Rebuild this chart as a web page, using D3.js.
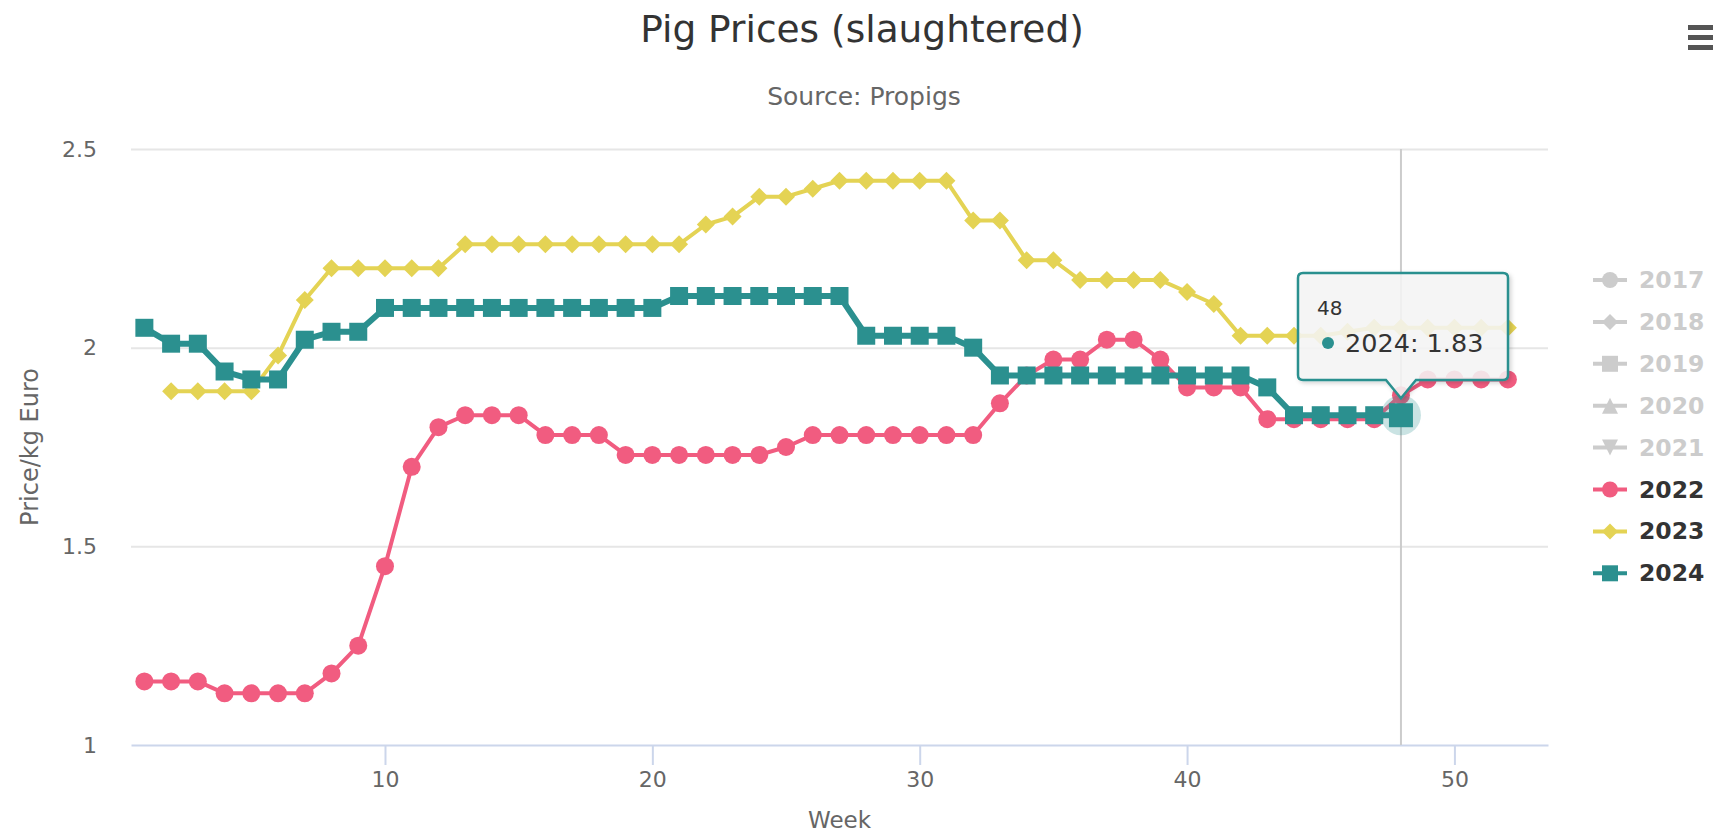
<!DOCTYPE html>
<html>
<head>
<meta charset="utf-8">
<script src="https://cdn.jsdelivr.net/npm/d3@7"></script>
<style>
  html, body { margin: 0; padding: 0; background: #fff; overflow: hidden; }
  svg text { font-family: "DejaVu Sans", "Lucida Grande", Arial, sans-serif; }
</style>
</head>
<body>
<div id="chart"></div>
<script>
// Pig prices per week, euro per kg
const years = ['2017', '2018', '2019', '2020', '2021', '2022', '2023', '2024'];
const visibleYears = ['2022', '2023', '2024'];
const xTicks = [10, 20, 30, 40, 50];
const yTicks = [1, 1.5, 2, 2.5];

const prices2022 = [1.16, 1.16, 1.16, 1.13, 1.13, 1.13, 1.13, 1.18, 1.25, 1.45,
  1.70, 1.80, 1.83, 1.83, 1.83, 1.78, 1.78, 1.78, 1.73, 1.73,
  1.73, 1.73, 1.73, 1.73, 1.75, 1.78, 1.78, 1.78, 1.78, 1.78,
  1.78, 1.78, 1.86, 1.93, 1.97, 1.97, 2.02, 2.02, 1.97, 1.90,
  1.90, 1.90, 1.82, 1.82, 1.82, 1.82, 1.82, 1.88, 1.92, 1.92,
  1.92, 1.92];
const prices2023 = [null, 1.89, 1.89, 1.89, 1.89, 1.98, 2.12, 2.20, 2.20, 2.20,
  2.20, 2.20, 2.26, 2.26, 2.26, 2.26, 2.26, 2.26, 2.26, 2.26,
  2.26, 2.31, 2.33, 2.38, 2.38, 2.40, 2.42, 2.42, 2.42, 2.42,
  2.42, 2.32, 2.32, 2.22, 2.22, 2.17, 2.17, 2.17, 2.17, 2.14,
  2.11, 2.03, 2.03, 2.03, 2.03, 2.04, 2.05, 2.05, 2.05, 2.05,
  2.05, 2.05];
const prices2024 = [2.05, 2.01, 2.01, 1.94, 1.92, 1.92, 2.02, 2.04, 2.04, 2.10,
  2.10, 2.10, 2.10, 2.10, 2.10, 2.10, 2.10, 2.10, 2.10, 2.10,
  2.13, 2.13, 2.13, 2.13, 2.13, 2.13, 2.13, 2.03, 2.03, 2.03,
  2.03, 2.00, 1.93, 1.93, 1.93, 1.93, 1.93, 1.93, 1.93, 1.93,
  1.93, 1.93, 1.90, 1.83, 1.83, 1.83, 1.83, 1.83];

const hoverWeek = 48;

// highcharts default colours / symbols
const palette = ['#7cb5ec', '#434348', '#90ed7d', '#f7a35c', '#8085e9', '#f15c80', '#e4d354', '#2b908f'];
const symbols = ['circle', 'diamond', 'square', 'triangle', 'triangle-down'];

const series = [
  { name: '2022', values: prices2022, color: palette[5], symbol: 'circle', lineWidth: 4 },
  { name: '2023', values: prices2023, color: palette[6], symbol: 'diamond', lineWidth: 4 },
  { name: '2024', values: prices2024, color: palette[7], symbol: 'square', lineWidth: 6 },
];

const width = 1713;
const height = 833;
const plot = { left: 131, right: 1548, top: 149, bottom: 745 };

const svg = d3.select('#chart')
  .append('svg')
  .attr('width', width)
  .attr('height', height);

const defs = svg.append('defs');
const shadow = defs.append('filter').attr('id', 'tipShadow')
  .attr('x', '-10%').attr('y', '-10%').attr('width', '130%').attr('height', '140%');
shadow.append('feDropShadow')
  .attr('dx', 2).attr('dy', 2).attr('stdDeviation', 2)
  .attr('flood-color', '#000').attr('flood-opacity', 0.18);

const x = d3.scaleLinear().domain([0.5, 53.5]).range([plot.left, plot.right]);
const y = d3.scaleLinear().domain([1, 2.5]).range([plot.bottom, plot.top]);

// symbol path, centred at 0,0 with radius r
const symbolPath = (type, r) => {
  if (type === 'circle') return d3.symbol(d3.symbolCircle, Math.PI * r * r)();
  if (type === 'square') return `M${-r},${-r}H${r}V${r}H${-r}Z`;
  if (type === 'diamond') return `M0,${-r}L${r},0L0,${r}L${-r},0Z`;
  if (type === 'triangle') return `M0,${-r}L${r},${r}H${-r}Z`;
  return `M${-r},${-r}H${r}L0,${r}Z`;
};

// Title + subtitle
svg.append('text')
  .attr('x', 862).attr('y', 42)
  .attr('text-anchor', 'middle')
  .attr('font-size', '37.5px')
  .attr('fill', '#333')
  .text('Pig Prices (slaughtered)');

svg.append('text')
  .attr('x', 864).attr('y', 105)
  .attr('text-anchor', 'middle')
  .attr('font-size', '25px')
  .attr('fill', '#666')
  .text('Source: Propigs');

// export menu (hamburger)
const menu = svg.append('g').attr('transform', 'translate(1688,25)');
menu.selectAll('rect')
  .data([0, 10, 20])
  .join('rect')
  .attr('x', 0).attr('y', (d) => d)
  .attr('width', 30).attr('height', 5)
  .attr('fill', '#555');

// Grid lines
svg.append('g')
  .attr('transform', `translate(${plot.left},0)`)
  .call(d3.axisLeft(y).tickValues(yTicks.filter((d) => d > 1)).tickSize(-(plot.right - plot.left)).tickFormat(''))
  .call((g) => g.select('.domain').remove())
  .call((g) => g.selectAll('line').attr('stroke', '#e6e6e6').attr('stroke-width', 2));

// Y axis labels
svg.append('g')
  .attr('transform', `translate(${plot.left},0)`)
  .call(d3.axisLeft(y).tickValues(yTicks).tickSize(0).tickPadding(34).tickFormat((d) => String(d)))
  .call((g) => g.select('.domain').remove())
  .call((g) => g.selectAll('text')
    .attr('font-size', '22px')
    .attr('fill', '#666')
    .attr('font-family', '"DejaVu Sans", sans-serif'));

// X axis
svg.append('g')
  .attr('transform', `translate(0,${plot.bottom})`)
  .call(d3.axisBottom(x).tickValues(xTicks).tickSize(20).tickPadding(6).tickSizeOuter(0))
  .call((g) => g.select('.domain').attr('stroke', '#ccd6eb').attr('stroke-width', 2))
  .call((g) => g.selectAll('line').attr('stroke', '#ccd6eb').attr('stroke-width', 2))
  .call((g) => g.selectAll('text')
    .attr('font-size', '22px')
    .attr('fill', '#666')
    .attr('font-family', '"DejaVu Sans", sans-serif'));

// Axis titles
svg.append('text')
  .attr('x', (plot.left + plot.right) / 2).attr('y', 828)
  .attr('text-anchor', 'middle')
  .attr('font-size', '23px')
  .attr('fill', '#666')
  .text('Week');

svg.append('text')
  .attr('transform', `translate(38,${(plot.top + plot.bottom) / 2}) rotate(-90)`)
  .attr('text-anchor', 'middle')
  .attr('font-size', '24px')
  .attr('fill', '#666')
  .text('Price/kg Euro');

// Crosshair
svg.append('line')
  .attr('x1', x(hoverWeek)).attr('x2', x(hoverWeek))
  .attr('y1', plot.top).attr('y2', plot.bottom)
  .attr('stroke', '#cccccc').attr('stroke-width', 2);

// Series
const line = d3.line()
  .defined((d) => d !== null)
  .x((d, i) => x(i + 1))
  .y((d) => y(d));

series.forEach((s) => {
  const g = svg.append('g').attr('class', `series-${s.name}`);
  g.append('path')
    .datum(s.values)
    .attr('d', line)
    .attr('fill', 'none')
    .attr('stroke', s.color)
    .attr('stroke-width', s.lineWidth)
    .attr('stroke-linejoin', 'round')
    .attr('stroke-linecap', 'round');

  const pts = s.values
    .map((v, i) => ({ week: i + 1, value: v }))
    .filter((d) => d.value !== null);

  g.selectAll('path.marker')
    .data(pts)
    .join('path')
    .attr('class', 'marker')
    .attr('transform', (d) => `translate(${x(d.week)},${y(d.value)})`)
    .attr('d', symbolPath(s.symbol, 9))
    .attr('fill', s.color);
});

// hovered point: halo + bigger marker
const hovered = series[2];
const hv = hovered.values[hoverWeek - 1];
svg.append('circle')
  .attr('cx', x(hoverWeek)).attr('cy', y(hv)).attr('r', 20)
  .attr('fill', hovered.color).attr('fill-opacity', 0.25);
svg.append('path')
  .attr('transform', `translate(${x(hoverWeek)},${y(hv)})`)
  .attr('d', symbolPath('square', 12))
  .attr('fill', hovered.color);

// Legend
const legend = svg.append('g').attr('transform', 'translate(1593,280)');
const items = legend.selectAll('g')
  .data(years)
  .join('g')
  .attr('transform', (d, i) => `translate(0,${i * 41.9})`);

items.each(function (d, i) {
  const on = visibleYears.includes(d);
  const col = on ? palette[i] : '#cccccc';
  const g = d3.select(this);
  g.append('line')
    .attr('x1', 0).attr('x2', 34).attr('y1', 0).attr('y2', 0)
    .attr('stroke', col).attr('stroke-width', 4);
  g.append('path')
    .attr('transform', 'translate(17,0)')
    .attr('d', symbolPath(symbols[i % symbols.length], 8))
    .attr('fill', col);
  g.append('text')
    .attr('x', 46).attr('y', 8)
    .attr('font-size', '23.5px')
    .attr('font-weight', 'bold')
    .attr('fill', on ? '#333' : '#cccccc')
    .text(d);
});

// Tooltip
const tipX = x(hoverWeek);
const tipY = y(hv);
const box = { left: 1298, right: 1508, top: 273, bottom: 380 };
const tipPath = `M${box.left + 5},${box.top}H${box.right - 5}Q${box.right},${box.top} ${box.right},${box.top + 5}`
  + `V${box.bottom - 5}Q${box.right},${box.bottom} ${box.right - 5},${box.bottom}`
  + `H${tipX + 15}L${tipX},${tipY - 17}L${tipX - 15},${box.bottom}`
  + `H${box.left + 5}Q${box.left},${box.bottom} ${box.left},${box.bottom - 5}`
  + `V${box.top + 5}Q${box.left},${box.top} ${box.left + 5},${box.top}Z`;

const tip = svg.append('g');
tip.append('path')
  .attr('d', tipPath)
  .attr('fill', 'rgba(247,247,247,0.85)')
  .attr('stroke', hovered.color)
  .attr('stroke-width', 2.5)
  .attr('filter', 'url(#tipShadow)');
tip.append('text')
  .attr('x', 1317).attr('y', 315)
  .attr('font-size', '20px')
  .attr('fill', '#333')
  .text(hoverWeek);
tip.append('circle')
  .attr('cx', 1328).attr('cy', 343).attr('r', 6)
  .attr('fill', hovered.color);
const tt = tip.append('text')
  .attr('x', 1345).attr('y', 352)
  .attr('font-size', '25.5px')
  .attr('fill', '#333');
tt.append('tspan').text(`${hovered.name}: `);
tt.append('tspan').text(d3.format('.2f')(hv));
</script>
</body>
</html>
